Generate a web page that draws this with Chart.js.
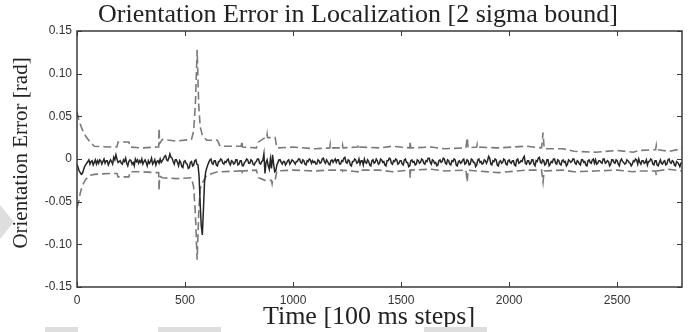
<!DOCTYPE html>
<html>
<head>
<meta charset="utf-8">
<script src="https://cdn.jsdelivr.net/npm/chart.js@4"></script>
<style>
  body { margin: 0; background: #fff; }
  #wrap { position: relative; width: 700px; height: 332px; }
  .smudge { position: absolute; background: #dedede; top: 327px; height: 5px; }
  .wedge {
    position: absolute; left: 0; top: 205px; width: 0; height: 0;
    border-left: 14px solid #dedede;
    border-top: 17px solid transparent;
    border-bottom: 17px solid transparent;
  }
</style>
</head>
<body>
<div id="wrap">
  <canvas id="errChart" width="700" height="332"></canvas>
  <div class="wedge"></div>
  <div class="smudge" style="left:45px;width:33px"></div>
  <div class="smudge" style="left:158px;width:63px"></div>
  <div class="smudge" style="left:424px;width:63px"></div>
</div>
<script>
// orientation error, one sample every 5 steps, in mrad (one row = 100 steps)
const SAMPLE_STEP = 5;
const errorMrad = [
  -6, -10, -14, -16, -18, -17, -13, -9, -7, -5, -3, -1, -6, -3, -2, -7, -4, -1, -6, -2,
  -5, -1, -2, -6, -3, 0, -5, -2, -2, -7, -4, -1, -3, -6, 2, -1, 5, 0, -4, -3,
  -2, -5, -6, -1, -3, 1, -5, -8, -3, -1, -2, -6, -4, -8, 0, -3, -1, -5, -2, -4,
  0, -6, -3, -1, -4, -8, -2, -5, -3, 1, -6, -4, -1, -7, -3, -2, -5, 0, -4, -2,
  0, 3, 4, -1, -2, 1, 6, 2, 1, -3, -6, -1, -1, -4, -8, -2, -4, -9, -10, -3,
  -2, -5, -6, -11, -10, -4, -3, -8, -7, -2, -1, -6, -7, -20, -52, -78, -89, -60, -28, -16,
  -11, -7, -4, -1, 0, -5, -6, -2, -2, -7, -8, -3, -3, 0, -1, -5, -6, -3, -4, -1,
  0, -5, -7, -2, -3, -6, -5, -1, -1, -7, -6, -2, -2, -8, -8, -4, -3, 0, -1, -5,
  -5, -1, -2, -6, -7, -4, -3, 0, 0, -5, -6, -3, -2, 6, -17, -4, -1, -8, -12, 0,
  -11, 5, -6, -15, -14, -7, -4, -1, -1, -4, -6, -3, -3, -7, -5, -2, -1, -6, -4, -1,
  -2, -4, -6, -3, -3, 0, 0, -4, -5, -1, -2, -6, -7, -2, -3, 0, -1, -5, -2, -4,
  -3, -6, -6, -1, -2, -5, -4, 0, 1, -3, -5, -1, -3, -6, -7, -2, -1, -4, -2, 0,
  -4, -1, -1, -6, -6, -2, -3, 1, 2, -4, -5, -1, -2, -7, -8, -3, -3, 0, -1, -5,
  -4, 0, -6, -2, -2, -7, 0, -4, -5, -1, -3, -7, -8, -2, -1, -5, -4, 0, -2, -6,
  -5, 0, -1, -4, -3, -7, -8, -2, -2, 1, 0, -5, -6, -2, -3, 0, -1, -6, -5, -2,
  -2, -6, -7, -1, 0, -4, -4, -9, -8, -2, -1, -4, -3, -7, -6, -1, -2, -5, -4, 0,
  -1, -5, -6, -2, -3, 1, 1, -4, -6, -1, -2, -5, -4, -8, -7, -2, -1, -4, -3, 1,
  0, -5, -6, -1, -2, -6, -7, -2, -3, 0, -1, -7, -8, -3, -2, -5, -4, -1, 0, -6,
  -5, -1, -2, -7, -6, 0, -1, -4, -4, -9, -7, -1, 0, -4, -3, -6, -5, -1, -2, -5,
  -2, 3, 1, -6, -7, -2, -3, 0, -1, -7, -8, -3, -2, -5, -4, 0, -1, -6, -7, -2,
  -1, -4, -5, -2, -2, -7, -8, -1, 0, -5, -4, -2, -3, 1, 3, -5, -6, -2, -2, -6,
  -5, -1, -1, -6, -8, -2, -3, 1, 2, -4, -5, -1, -2, -7, -6, -1, -1, -8, -6, -3,
  -4, 0, 0, -5, -6, -1, -2, -6, -7, -2, -1, -4, -3, -8, -6, -1, -2, -4, -3, 0,
  0, -5, -6, -2, -3, -6, -7, -1, -1, -4, -3, -7, -8, -2, -1, -4, -5, -1, 0, -5,
  -1, -6, -5, -2, -2, -4, -5, 0, 0, -5, -4, -2, -3, -8, -6, -1, -1, -4, -5, -1,
  -2, -6, -8, -2, 0, -3, -4, -6, -5, -1, -2, -4, -5, -8, -6, -2, -3, 0, -1, -6,
  0, -4, -6, -2, -2, -5, -4, -1, -7, -3, -3, 0, -1, -6, -7, -2, -2, -7, -8, -4,
  -1, -5, -6, -3, -2, -7, -6, -1, 0, -4, -5, -2, -3, -7, -8, -3, -4, -6, -9, -5,
  -4
];

// 2 sigma bound, sampled where it changes
const boundSteps = [
  0, 8, 15, 25, 40, 60, 80, 150, 185, 190, 240, 245, 300, 370, 378, 380, 382, 395, 460, 530,
  540, 548, 556, 563, 570, 580, 600, 650, 662, 760, 763, 766, 830, 840, 870, 878, 880, 882, 900, 903,
  906, 917, 925, 1000, 1100, 1170, 1172, 1174, 1227, 1229, 1231, 1300, 1302, 1304, 1400, 1460, 1540, 1542, 1544, 1640,
  1700, 1800, 1806, 1810, 1850, 1852, 1854, 1950, 2080, 2150, 2157, 2162, 2250, 2300, 2400, 2500, 2574, 2600, 2678, 2681,
  2684, 2740, 2800
];
const upperMrad = [
  55, 47, 41, 34, 27, 20, 15, 14, 14, 20, 20, 14, 13, 14, 14, 36, 18, 23, 21, 23,
  33, 65, 128, 65, 38, 28, 22, 22, 15, 15, 21, 14, 13, 20, 25, 25, 29, 25, 25, 25,
  25, 25, 13, 14, 12, 13, 17, 13, 13, 16, 13, 14, 17, 14, 13, 15, 13, 21, 13, 14,
  12, 13, 25, 13, 14, 17, 14, 13, 15, 13, 31, 12, 12, 9, 8, 10, 8, 10, 11, 16,
  11, 9, 12
];
const lowerMrad = [
  -57, -50, -40, -31, -24, -19, -18, -17, -17, -21, -21, -15, -15, -16, -16, -37, -20, -22, -23, -22,
  -33, -65, -118, -65, -35, -28, -19, -15, -15, -14, -18, -14, -13, -22, -25, -25, -25, -25, -25, -29,
  -25, -25, -14, -13, -14, -13, -13, -13, -13, -14, -13, -15, -13, -13, -13, -15, -13, -22, -13, -12,
  -14, -13, -27, -13, -14, -14, -14, -16, -13, -13, -27, -14, -13, -15, -14, -13, -15, -14, -14, -19,
  -14, -12, -14
];

const xTicks = [0, 500, 1000, 1500, 2000, 2500];
const yTicks = [-0.15, -0.10, -0.05, 0, 0.05, 0.10, 0.15];

const toRad = v => v / 1000;
const errorPoints = errorMrad.map((v, i) => ({ x: i * SAMPLE_STEP, y: toRad(v) }));
const upperPoints = boundSteps.map((s, i) => ({ x: s, y: toRad(upperMrad[i]) }));
const lowerPoints = boundSteps.map((s, i) => ({ x: s, y: toRad(lowerMrad[i]) }));

const SERIF = '"Liberation Serif", "Times New Roman", serif';
const SANS = '"Liberation Sans", Arial, sans-serif';

// box, inward tick marks and the titles
const framePlugin = {
  id: 'frame',
  afterDraw(chart) {
    const { ctx, chartArea: a, scales } = chart;
    ctx.save();
    ctx.strokeStyle = '#3a3a3a';
    ctx.lineWidth = 1.5;
    ctx.strokeRect(a.left, a.top, a.right - a.left, a.bottom - a.top);

    ctx.lineWidth = 1;
    ctx.beginPath();
    xTicks.forEach(v => {
      const px = Math.round(scales.x.getPixelForValue(v)) + 0.5;
      ctx.moveTo(px, a.bottom); ctx.lineTo(px, a.bottom - 5);
      ctx.moveTo(px, a.top); ctx.lineTo(px, a.top + 5);
    });
    yTicks.forEach(v => {
      const py = Math.round(scales.y.getPixelForValue(v)) + 0.5;
      ctx.moveTo(a.left, py); ctx.lineTo(a.left + 5, py);
      ctx.moveTo(a.right, py); ctx.lineTo(a.right - 5, py);
    });
    ctx.stroke();

    ctx.fillStyle = '#222';
    ctx.textAlign = 'center';
    ctx.textBaseline = 'middle';
    ctx.font = '26px ' + SERIF;
    ctx.fillText('Orientation Error in Localization [2 sigma bound]', 358, 15);
    ctx.fillText('Time [100 ms steps]', 369, 317);
    ctx.translate(21, 153);
    ctx.rotate(-Math.PI / 2);
    ctx.font = '21px ' + SERIF;
    ctx.fillText('Orientation Error [rad]', 0, 0);
    ctx.restore();
  }
};

new Chart(document.getElementById('errChart'), {
  type: 'line',
  data: {
    datasets: [
      {
        label: 'error',
        data: errorPoints,
        borderColor: '#262626',
        borderWidth: 1.5,
        pointRadius: 0,
        tension: 0
      },
      {
        label: '+2 sigma',
        data: upperPoints,
        borderColor: '#7a7a7a',
        borderWidth: 1.6,
        borderDash: [8, 4],
        pointRadius: 0,
        tension: 0
      },
      {
        label: '-2 sigma',
        data: lowerPoints,
        borderColor: '#7a7a7a',
        borderWidth: 1.6,
        borderDash: [8, 4],
        pointRadius: 0,
        tension: 0
      }
    ]
  },
  options: {
    responsive: false,
    animation: false,
    layout: { padding: { top: 31, right: 18, left: 0, bottom: 0 } },
    plugins: {
      legend: { display: false },
      tooltip: { enabled: false }
    },
    scales: {
      x: {
        type: 'linear',
        min: 0,
        max: 2800,
        afterFit: s => { s.height = 45; },
        afterBuildTicks: s => { s.ticks = xTicks.map(v => ({ value: v })); },
        grid: { display: false, drawTicks: false },
        border: { display: false },
        ticks: {
          padding: 6,
          color: '#333',
          font: { family: SANS, size: 12 },
          maxRotation: 0,
          callback: v => String(v)
        }
      },
      y: {
        min: -0.15,
        max: 0.15,
        afterFit: s => { s.width = 77; },
        afterBuildTicks: s => { s.ticks = yTicks.map(v => ({ value: v })); },
        grid: { display: false, drawTicks: false },
        border: { display: false },
        ticks: {
          padding: 5,
          color: '#333',
          font: { family: SANS, size: 12 },
          callback: v => (Math.abs(v) < 1e-9 ? '0' : v.toFixed(2))
        }
      }
    }
  },
  plugins: [framePlugin]
});
</script>
</body>
</html>
